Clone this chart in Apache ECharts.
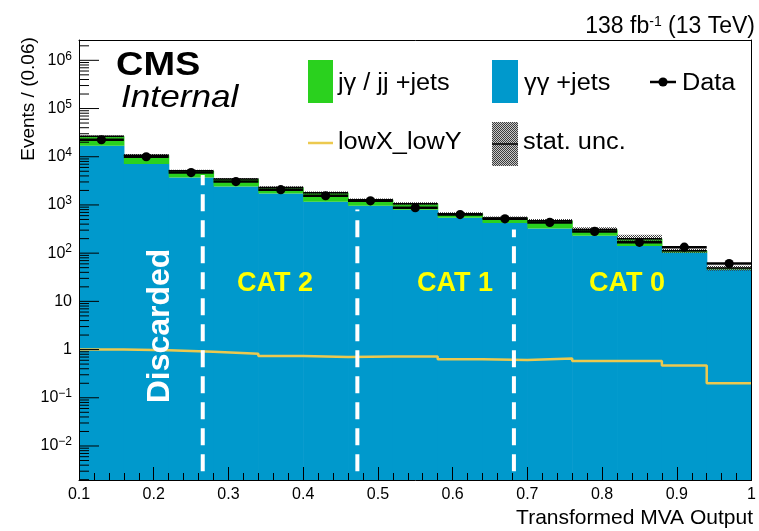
<!DOCTYPE html>
<html><head><meta charset="utf-8">
<script src="https://cdn.jsdelivr.net/npm/echarts@6/dist/echarts.min.js"></script>
<style>html,body{margin:0;padding:0;background:#fff}#c{width:759px;height:531px}</style>
</head><body><div id="c"></div>
<script>
// ---------------- data ----------------
const binEdges = [0.10,0.16,0.22,0.28,0.34,0.40,0.46,0.52,0.58,0.64,0.70,0.76,0.82,0.88,0.94,1.00];
const ggJets   = [16900,7070,3720,2420,1730,1165,960,795,540,420,325,231,141,102,46];
const jgJets   = [9600,3730,1410,1020,570,625,320,265,116,115,145,79,59,10,3];
const dataVals = [22500,10000,4700,3060,2070,1550,1220,875,630,515,435,283,168,133,61];
const signalVals = [1.00,0.97,0.90,0.82,0.74,0.70,0.72,0.72,0.63,0.61,0.65,0.58,0.58,0.47,0.20];
const statUncRel = [0.04,0.05,0.05,0.05,0.06,0.06,0.06,0.07,0.08,0.08,0.09,0.11,0.20,0.10,0.12];
const catBoundaries = [0.2656,0.4725,0.682];
const catLineTops = [4200,800,310];
const catLineBottom = 0.003;
const xTickLabels = ['0.1','0.2','0.3','0.4','0.5','0.6','0.7','0.8','0.9','1'];
const catNames = ['CAT 2','CAT 1','CAT 0'];

// ---------------- style ----------------
const BLUE = '#0099cc', GREEN = '#2ad11e', SIG = '#ecc94f';
const FONT = '"Liberation Sans", Arial, Helvetica, sans-serif';
const yMin = 1.97e-3, yMax = 2.64e6;

function makeHatch(bg){
  const c = document.createElement('canvas'); c.width = 2; c.height = 2;
  const g = c.getContext('2d');
  if (bg){ g.fillStyle = bg; g.fillRect(0,0,2,2); }
  g.fillStyle = '#3c3c3c';
  g.fillRect(0,0,1,1); g.fillRect(1,1,1,1);
  return c;
}
const hatch = makeHatch(null);
const hatchLegend = makeHatch('#c8c8c8');

const nb = ggJets.length;
const stackData = [], uncData = [], dataPts = [], sigLine = [];
for (let i=0;i<nb;i++){
  const tot = ggJets[i] + jgJets[i];
  stackData.push([binEdges[i], binEdges[i+1], ggJets[i], tot]);
  uncData.push([binEdges[i], binEdges[i+1], tot*(1-statUncRel[i]), tot*(1+statUncRel[i]), tot]);
  dataPts.push([binEdges[i], binEdges[i+1], dataVals[i]]);
  sigLine.push([binEdges[i], signalVals[i]]);
}
sigLine.push([binEdges[nb], signalVals[nb-1]]);
const catData = catBoundaries.map((b,i)=>[b, catLineBottom, catLineTops[i]]);

const yTicks = [];
for (let k=-3;k<=6;k++) for (let m=1;m<=9;m++){
  const v = m*Math.pow(10,k);
  if (v>yMin && v<yMax) yTicks.push([binEdges[0], v, m===1?1:0]);
}

const chart = echarts.init(document.getElementById('c'), null, {renderer:'canvas'});
const option = {
  animation:false,
  backgroundColor:'#fff',
  grid:{left:79, right:6, top:40, bottom:51, containLabel:false},
  xAxis:[{
    type:'value', min:0.1, max:1, interval:0.1, z:10,
    axisLine:{show:true, onZero:false, lineStyle:{color:'#000', width:1}},
    axisTick:{show:true, inside:true, length:13, lineStyle:{color:'#000', width:1}},
    minorTick:{show:true, splitNumber:5, length:7, lineStyle:{color:'#000', width:1}},
    splitLine:{show:false},
    axisLabel:{color:'#000', fontSize:16, fontFamily:FONT, margin:7,
      formatter:(v)=>{ const i=Math.round((v-0.1)/0.1); return xTickLabels[i]||''; }}
  },{
    type:'value', position:'top', min:0.1, max:1, z:10,
    axisLine:{show:true, onZero:false, lineStyle:{color:'#000', width:1}},
    axisTick:{show:false}, axisLabel:{show:false}, splitLine:{show:false}
  }],
  yAxis:[{
    type:'log', logBase:10, min:yMin, max:yMax, splitNumber:10, z:10,
    axisLine:{show:true, onZero:false, lineStyle:{color:'#000', width:1}},
    axisTick:{show:false}, splitLine:{show:false}, minorTick:{show:false},
    axisLabel:{color:'#000', fontSize:16, fontFamily:FONT, margin:7, showMinLabel:false, showMaxLabel:false,
      lineHeight:20,
      formatter:(v)=>{
        const l = Math.log10(v), k = Math.round(l);
        if (Math.abs(l-k)>1e-6) return '';
        if (k===0) return '1';
        if (k===1) return '10';
        return '10{s|'+(k<0?'\u2212'+(-k):k)+'}';
      },
      rich:{s:{fontSize:12, fontFamily:FONT, color:'#000', verticalAlign:'top', lineHeight:12}}
    }
  },{
    type:'log', logBase:10, min:yMin, max:yMax, position:'right', z:10,
    axisLine:{show:true, onZero:false, lineStyle:{color:'#000', width:1}},
    axisTick:{show:false}, axisLabel:{show:false}, splitLine:{show:false}
  }],
  series:[
    { type:'custom', name:'stack', z:2, clip:true, data:stackData,
      encode:{x:[0,1], y:[2,3]},
      renderItem:(p,api)=>{
        const lo=api.value(0), hi=api.value(1), gg=api.value(2), tot=api.value(3);
        const b = api.coord([lo, yMin]), g = api.coord([hi, gg]), t = api.coord([hi, tot]);
        const w = g[0]-b[0]+0.6;
        return {type:'group', children:[
          {type:'rect', shape:{x:b[0], y:g[1], width:w, height:b[1]-g[1]}, style:{fill:BLUE}},
          {type:'rect', shape:{x:b[0], y:t[1], width:w, height:g[1]-t[1]}, style:{fill:GREEN}}
        ]};
      }},
    { type:'custom', name:'stat. unc.', z:3, clip:true, data:uncData,
      encode:{x:[0,1], y:[2,3]},
      renderItem:(p,api)=>{
        const lo=api.value(0), hi=api.value(1), dn=api.value(2), up=api.value(3), tot=api.value(4);
        const a = api.coord([lo, up]), b = api.coord([hi, dn]), m = api.coord([hi, tot]);
        return {type:'group', children:[
          {type:'rect', shape:{x:a[0], y:a[1], width:b[0]-a[0], height:b[1]-a[1]}, style:{fill:{image:hatch, repeat:'repeat'}}},
          {type:'line', shape:{x1:a[0], y1:m[1], x2:b[0], y2:m[1]}, style:{stroke:'#000', lineWidth:1.5}}
        ]};
      }},
    { type:'line', name:'lowX_lowY', z:4, step:'end', symbol:'none', data:sigLine,
      lineStyle:{color:SIG, width:2.5}},
    { type:'custom', name:'cats', z:5, clip:true, data:catData,
      encode:{x:0, y:[1,2]},
      renderItem:(p,api)=>{
        const x=api.value(0), lo=api.value(1), hi=api.value(2);
        const a = api.coord([x, lo]), b = api.coord([x, hi]);
        return {type:'line', shape:{x1:a[0], y1:a[1], x2:b[0], y2:b[1]},
          style:{stroke:'#fff', lineWidth:4, lineDash:[17,9]}};
      }},
    { type:'custom', name:'Data', z:6, clip:true, data:dataPts,
      encode:{x:[0,1], y:2},
      renderItem:(p,api)=>{
        const lo=api.value(0), hi=api.value(1), d=api.value(2), e=Math.sqrt(d);
        const a = api.coord([lo, d]), b = api.coord([hi, d]);
        const c = api.coord([(lo+hi)/2, d]);
        const u = api.coord([(lo+hi)/2, d+e]), w = api.coord([(lo+hi)/2, d-e]);
        return {type:'group', children:[
          {type:'line', shape:{x1:a[0], y1:a[1], x2:b[0], y2:b[1]}, style:{stroke:'#000', lineWidth:2.5}},
          {type:'line', shape:{x1:c[0], y1:u[1], x2:c[0], y2:w[1]}, style:{stroke:'#000', lineWidth:2}},
          {type:'circle', shape:{cx:c[0], cy:c[1], r:4.6}, style:{fill:'#000'}}
        ]};
      }},
    { type:'custom', name:'yticks', z:7, clip:false, data:yTicks,
      encode:{x:0, y:1},
      renderItem:(p,api)=>{
        const c = api.coord([api.value(0), api.value(1)]);
        const len = api.value(2) ? 20 : 10;
        return {type:'line', shape:{x1:c[0], y1:c[1], x2:c[0]+len, y2:c[1]}, style:{stroke:'#000', lineWidth:1}};
      }}
  ],
  graphic:[
    {type:'text', z:100, x:116, y:66, scaleX:1.15, style:{text:'CMS', font:'bold 33px '+FONT, fill:'#000', textVerticalAlign:'middle'}},
    {type:'text', z:100, x:121, y:98, scaleX:1.1, style:{text:'Internal', font:'italic 32px '+FONT, fill:'#000', textVerticalAlign:'middle'}},
    {type:'text', z:100, x:755, y:27, scaleX:1.0, style:{text:'138 fb{s|-1} (13 TeV)', font:'23px '+FONT, fill:'#000', textAlign:'right', textVerticalAlign:'middle',
      rich:{s:{fontSize:14, fontFamily:FONT, fill:'#000', verticalAlign:'top', lineHeight:12}}}},
    {type:'text', z:100, x:29, y:99, rotation:Math.PI/2, style:{text:'Events / (0.06)', font:'19px '+FONT, fill:'#000', textAlign:'center', textVerticalAlign:'middle'}},
    {type:'text', z:100, x:753, y:518, style:{text:'Transformed MVA Output', font:'21px '+FONT, fill:'#000', textAlign:'right', textVerticalAlign:'middle'}},
    {type:'text', z:100, x:160, y:326, rotation:Math.PI/2, style:{text:'Discarded', font:'bold 32px '+FONT, fill:'#fff', textAlign:'center', textVerticalAlign:'middle'}},
    {type:'text', z:100, x:275, y:284, style:{text:catNames[0], font:'bold 27px '+FONT, fill:'#ffff00', textAlign:'center', textVerticalAlign:'middle'}},
    {type:'text', z:100, x:455, y:284, style:{text:catNames[1], font:'bold 27px '+FONT, fill:'#ffff00', textAlign:'center', textVerticalAlign:'middle'}},
    {type:'text', z:100, x:627, y:284, style:{text:catNames[2], font:'bold 27px '+FONT, fill:'#ffff00', textAlign:'center', textVerticalAlign:'middle'}},
    // legend
    {type:'rect', z:100, shape:{x:308, y:60, width:25, height:43}, style:{fill:GREEN}},
    {type:'text', z:100, x:338, y:84, scaleX:1.1, style:{text:'j\u03b3 / jj +jets', font:'23px '+FONT, fill:'#000', textVerticalAlign:'middle'}},
    {type:'rect', z:100, shape:{x:492, y:60, width:26, height:43}, style:{fill:BLUE}},
    {type:'text', z:100, x:524, y:84, scaleX:1.1, style:{text:'\u03b3\u03b3 +jets', font:'23px '+FONT, fill:'#000', textVerticalAlign:'middle'}},
    {type:'line', z:100, shape:{x1:650, y1:82, x2:676, y2:82}, style:{stroke:'#000', lineWidth:2.5}},
    {type:'circle', z:100, shape:{cx:663, cy:82, r:4.6}, style:{fill:'#000'}},
    {type:'text', z:100, x:682, y:84, scaleX:1.1, style:{text:'Data', font:'23px '+FONT, fill:'#000', textVerticalAlign:'middle'}},
    {type:'line', z:100, shape:{x1:308, y1:143, x2:333, y2:143}, style:{stroke:SIG, lineWidth:2.5}},
    {type:'text', z:100, x:338, y:143, scaleX:1.1, style:{text:'lowX_lowY', font:'23px '+FONT, fill:'#000', textVerticalAlign:'middle'}},
    {type:'rect', z:100, shape:{x:492, y:122, width:26, height:44}, style:{fill:{image:hatchLegend, repeat:'repeat'}}},
    {type:'line', z:101, shape:{x1:492, y1:144, x2:518, y2:144}, style:{stroke:'#000', lineWidth:1.5}},
    {type:'text', z:100, x:523, y:143, scaleX:1.1, style:{text:'stat. unc.', font:'23px '+FONT, fill:'#000', textVerticalAlign:'middle'}}
  ]
};
chart.setOption(option);
</script>
</body></html>
